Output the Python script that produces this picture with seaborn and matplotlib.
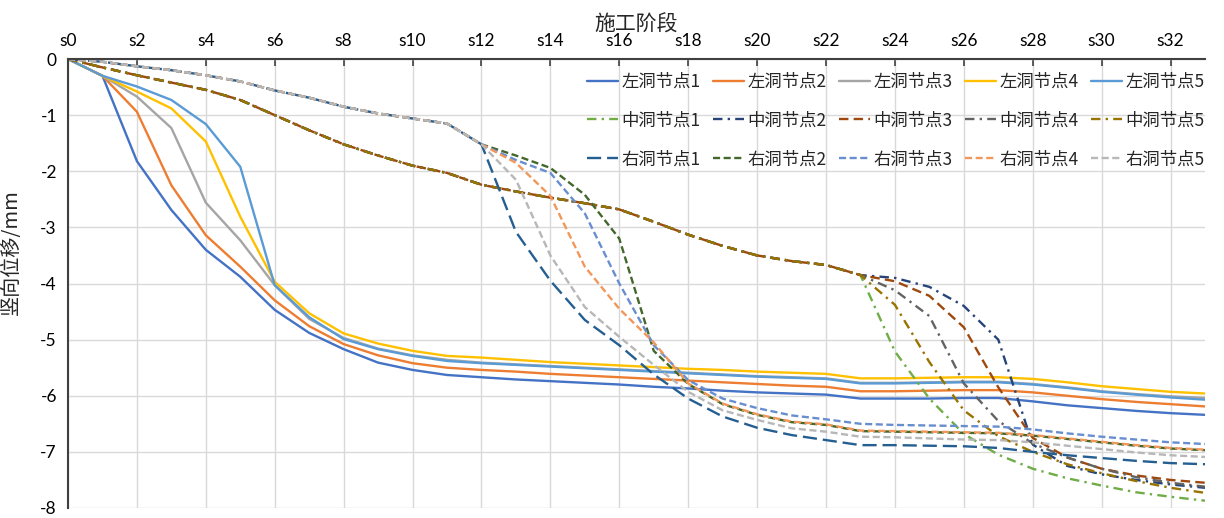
import pandas as pd
import seaborn as sns
import matplotlib.pyplot as plt
from matplotlib.lines import Line2D

# stage index s0..s33
stages = list(range(34))
xtick_pos = [0, 2, 4, 6, 8, 10, 12, 14, 16, 18, 20, 22, 24, 26, 28, 30, 32]
xtick_labels = ["s0", "s2", "s4", "s6", "s8", "s10", "s12", "s14", "s16",
                "s18", "s20", "s22", "s24", "s26", "s28", "s30", "s32"]

# 左洞 (left tunnel)
left1 = [0, -0.3, -1.82, -2.69, -3.40, -3.88, -4.47, -4.88, -5.17, -5.41, -5.54, -5.63,
         -5.67, -5.71, -5.74, -5.77, -5.80, -5.84, -5.87, -5.91, -5.94, -5.96, -5.98,
         -6.05, -6.05, -6.05, -6.04, -6.04, -6.10, -6.17, -6.22, -6.27, -6.31, -6.34]
left2 = [0, -0.3, -0.94, -2.25, -3.14, -3.70, -4.30, -4.76, -5.08, -5.28, -5.42, -5.50,
         -5.54, -5.57, -5.61, -5.64, -5.67, -5.70, -5.73, -5.76, -5.79, -5.82, -5.84,
         -5.92, -5.92, -5.91, -5.90, -5.90, -5.94, -6.00, -6.06, -6.11, -6.15, -6.19]
left3 = [0, -0.3, -0.67, -1.23, -2.56, -3.23, -4.03, -4.63, -4.97, -5.16, -5.28, -5.36,
         -5.41, -5.44, -5.47, -5.50, -5.53, -5.56, -5.59, -5.62, -5.65, -5.67, -5.69,
         -5.77, -5.77, -5.76, -5.75, -5.75, -5.79, -5.85, -5.92, -5.97, -6.01, -6.04]
left4 = [0, -0.3, -0.58, -0.88, -1.47, -2.81, -3.97, -4.53, -4.89, -5.07, -5.20, -5.29,
         -5.32, -5.36, -5.40, -5.43, -5.46, -5.49, -5.52, -5.54, -5.57, -5.59, -5.61,
         -5.69, -5.69, -5.68, -5.67, -5.67, -5.70, -5.76, -5.83, -5.88, -5.93, -5.96]
left5 = [0, -0.3, -0.49, -0.73, -1.16, -1.92, -4.03, -4.60, -4.99, -5.17, -5.29, -5.38,
         -5.42, -5.45, -5.48, -5.51, -5.54, -5.57, -5.60, -5.63, -5.66, -5.68, -5.70,
         -5.78, -5.78, -5.77, -5.76, -5.76, -5.80, -5.86, -5.93, -5.98, -6.03, -6.07]

# 中洞 (middle tunnel)
mid1 = [0, -0.15, -0.29, -0.42, -0.55, -0.73, -1.0, -1.27, -1.52, -1.72, -1.9, -2.03,
        -2.24, -2.36, -2.47, -2.57, -2.68, -2.9, -3.13, -3.33, -3.5, -3.6, -3.67, -3.85,
        -5.21, -6.05, -6.68, -7.05, -7.30, -7.47, -7.60, -7.72, -7.80, -7.87]
mid2 = [0, -0.15, -0.29, -0.42, -0.55, -0.73, -1.0, -1.27, -1.52, -1.72, -1.9, -2.03,
        -2.24, -2.36, -2.47, -2.57, -2.68, -2.9, -3.13, -3.33, -3.5, -3.6, -3.67, -3.85,
        -3.90, -4.06, -4.40, -5.00, -6.87, -7.25, -7.40, -7.50, -7.58, -7.64]
mid3 = [0, -0.15, -0.29, -0.42, -0.55, -0.73, -1.0, -1.27, -1.52, -1.72, -1.9, -2.03,
        -2.24, -2.36, -2.47, -2.57, -2.68, -2.9, -3.13, -3.33, -3.5, -3.6, -3.67, -3.85,
        -3.96, -4.22, -4.78, -5.85, -6.75, -7.10, -7.30, -7.42, -7.50, -7.55]
mid4 = [0, -0.15, -0.29, -0.42, -0.55, -0.73, -1.0, -1.27, -1.52, -1.72, -1.9, -2.03,
        -2.24, -2.36, -2.47, -2.57, -2.68, -2.9, -3.13, -3.33, -3.5, -3.6, -3.67, -3.85,
        -4.12, -4.58, -5.78, -6.45, -6.85, -7.10, -7.30, -7.45, -7.55, -7.62]
mid5 = [0, -0.15, -0.29, -0.42, -0.55, -0.73, -1.0, -1.27, -1.52, -1.72, -1.9, -2.03,
        -2.24, -2.36, -2.47, -2.57, -2.68, -2.9, -3.13, -3.33, -3.5, -3.6, -3.67, -3.85,
        -4.38, -5.40, -6.26, -6.72, -7.00, -7.22, -7.38, -7.52, -7.64, -7.73]

# 右洞 (right tunnel)
right1 = [0, -0.05, -0.13, -0.2, -0.29, -0.4, -0.56, -0.69, -0.85, -0.97, -1.06, -1.15, -1.52,
          -3.08, -3.95, -4.65, -5.10, -5.62, -6.05, -6.37, -6.57, -6.70, -6.79, -6.88,
          -6.88, -6.89, -6.90, -6.93, -7.00, -7.06, -7.11, -7.16, -7.20, -7.22]
right2 = [0, -0.05, -0.13, -0.2, -0.29, -0.4, -0.56, -0.69, -0.85, -0.97, -1.06, -1.15, -1.52,
          -1.72, -1.94, -2.42, -3.20, -5.20, -5.79, -6.15, -6.34, -6.47, -6.52, -6.63,
          -6.64, -6.65, -6.66, -6.67, -6.71, -6.77, -6.83, -6.89, -6.94, -6.97]
right3 = [0, -0.05, -0.13, -0.2, -0.29, -0.4, -0.56, -0.69, -0.85, -0.97, -1.06, -1.15, -1.52,
          -1.80, -2.03, -2.75, -4.00, -5.10, -5.72, -6.05, -6.22, -6.35, -6.42, -6.50,
          -6.52, -6.53, -6.54, -6.55, -6.60, -6.67, -6.73, -6.78, -6.83, -6.86]
right4 = [0, -0.05, -0.13, -0.2, -0.29, -0.4, -0.56, -0.69, -0.85, -0.97, -1.06, -1.15, -1.52,
          -1.85, -2.44, -3.70, -4.45, -5.05, -5.78, -6.14, -6.33, -6.46, -6.51, -6.62,
          -6.63, -6.64, -6.65, -6.66, -6.70, -6.76, -6.82, -6.88, -6.93, -6.96]
right5 = [0, -0.05, -0.13, -0.2, -0.29, -0.4, -0.56, -0.69, -0.85, -0.97, -1.06, -1.15, -1.52,
          -2.15, -3.50, -4.42, -4.95, -5.45, -5.93, -6.26, -6.43, -6.58, -6.64, -6.73,
          -6.74, -6.76, -6.78, -6.79, -6.83, -6.89, -6.95, -7.01, -7.06, -7.09]

names = ["左洞节点1", "左洞节点2", "左洞节点3", "左洞节点4", "左洞节点5",
         "中洞节点1", "中洞节点2", "中洞节点3", "中洞节点4", "中洞节点5",
         "右洞节点1", "右洞节点2", "右洞节点3", "右洞节点4", "右洞节点5"]
series = [left1, left2, left3, left4, left5,
          mid1, mid2, mid3, mid4, mid5,
          right1, right2, right3, right4, right5]
colors = ["#4472C4", "#ED7D31", "#A5A5A5", "#FFC000", "#5B9BD5",
          "#70AD47", "#264478", "#9E480E", "#636363", "#997300",
          "#255E91", "#43682B", "#698ED0", "#F1975A", "#B7B7B7"]

dash_dot = (4, 2.2, 1, 2.2)
dash_styles = ["", "", "", "", "",
               dash_dot, dash_dot, (4, 2.2), dash_dot, dash_dot,
               (6, 2.5), (3, 1.5), (3, 1.5), (3, 1.5), (3, 1.5)]

df = pd.concat([pd.DataFrame({"stage": stages, "disp": v, "series": n})
                for n, v in zip(names, series)], ignore_index=True)

sns.set_style("white")
plt.rcParams["font.family"] = ["Noto Sans CJK SC", "DejaVu Sans"]
plt.rcParams["axes.unicode_minus"] = False

fig = plt.figure(figsize=(12.24, 5.18), dpi=100)
ax = fig.add_axes([68 / 1224, 1 - 508 / 518, (1205 - 68) / 1224, (508 - 59) / 518])

sns.lineplot(data=df, x="stage", y="disp", hue="series", style="series",
             hue_order=names, style_order=names,
             palette=dict(zip(names, colors)),
             dashes=dict(zip(names, dash_styles)),
             linewidth=1.7, errorbar=None, legend=False, ax=ax)

ax.set_xlim(0, 33)
ax.set_ylim(-8, 0)
ax.set_xticks(xtick_pos)
ax.set_xticklabels(xtick_labels, fontfamily="Lato", fontsize=12.5)
ax.set_yticks(range(-8, 1))
ax.set_yticklabels([str(v) for v in range(-8, 1)], fontfamily="Lato", fontsize=12.5)
ax.xaxis.tick_top()
ax.xaxis.set_label_position("top")
ax.set_xlabel("施工阶段", fontsize=15, labelpad=2)
ax.set_ylabel("竖向位移/mm", fontsize=14.5)
ax.yaxis.set_label_coords(-0.041, 0.57)

ax.grid(True, color="#D9D9D9", linewidth=1.0)
ax.set_axisbelow(True)
for side in ["bottom", "right"]:
    ax.spines[side].set_visible(False)
for side in ["top", "left"]:
    ax.spines[side].set_color("#404040")
    ax.spines[side].set_linewidth(1.5)
ax.tick_params(axis="x", direction="in", length=5, width=1.2, colors="#404040",
               labelcolor="black", pad=7, top=True, bottom=False)
ax.tick_params(axis="y", direction="in", length=5, width=1.2, colors="#404040",
               labelcolor="black", pad=8)

# legend: 3 rows (左/中/右) x 5 columns, filled column-wise
handles = []
for c, d in zip(colors, dash_styles):
    h = Line2D([], [], color=c, linewidth=1.7)
    if d:
        h.set_dashes(d)
    handles.append(h)
order = [r * 5 + c for c in range(5) for r in range(3)]
ax.legend([handles[i] for i in order], [names[i] for i in order],
          ncol=5, loc="upper right", bbox_to_anchor=(1.006, 0.985),
          borderaxespad=0, frameon=False, fontsize=12.5,
          handlelength=1.8, handletextpad=0.2, columnspacing=0.7,
          labelspacing=1.2)

fig.savefig("out.png", dpi=100)
